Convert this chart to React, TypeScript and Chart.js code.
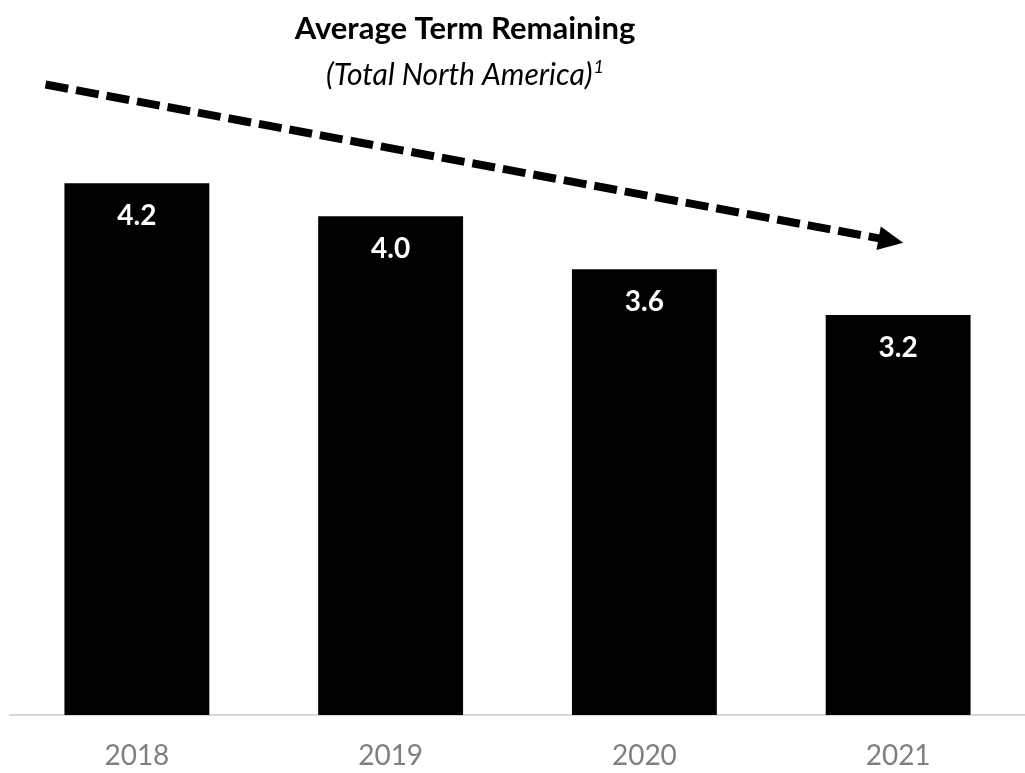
import React, { useEffect, useRef } from "react";
import { Chart, registerables } from "chart.js";

Chart.register(...registerables);

// ---- data ----
const categories = ["2018", "2019", "2020", "2021"];
const values = [4.2, 3.94, 3.52, 3.16];
const valueLabels = ["4.2", "4.0", "3.6", "3.2"];
const titleText = "Average Term Remaining";
const subtitleText = "(Total North America)";
const subtitleSup = "1";
// trend arrow in data units: [category index, value]
const trendStart = [-0.36, 4.98];
const trendEnd = [3.02, 3.73];

const FONT = "Lato, 'Open Sans', sans-serif";

const dataLabelPlugin = {
  id: "dataLabels",
  afterDatasetsDraw(chart: any) {
    const ctx = chart.ctx;
    const meta = chart.getDatasetMeta(0);
    ctx.save();
    ctx.fillStyle = "#ffffff";
    ctx.font = `bold 28px ${FONT}`;
    ctx.textAlign = "center";
    ctx.textBaseline = "middle";
    meta.data.forEach((bar: any, i: number) => {
      ctx.fillText(valueLabels[i], bar.x, bar.y + 33);
    });
    ctx.restore();
  },
};

const trendArrowPlugin = {
  id: "trendArrow",
  afterDraw(chart: any) {
    const ctx = chart.ctx;
    const xs = chart.scales.x;
    const ys = chart.scales.y;
    const x1 = xs.getPixelForValue(trendStart[0]);
    const y1 = ys.getPixelForValue(trendStart[1]);
    const x2 = xs.getPixelForValue(trendEnd[0]);
    const y2 = ys.getPixelForValue(trendEnd[1]);
    const ang = Math.atan2(y2 - y1, x2 - x1);
    const headLen = 25;
    const headHalf = 12;
    const bx = x2 - headLen * Math.cos(ang);
    const by = y2 - headLen * Math.sin(ang);
    ctx.save();
    ctx.strokeStyle = "#000000";
    ctx.lineWidth = 8;
    ctx.lineCap = "butt";
    ctx.setLineDash([23, 8]);
    ctx.beginPath();
    ctx.moveTo(x1, y1);
    ctx.lineTo(bx + 2 * Math.cos(ang), by + 2 * Math.sin(ang));
    ctx.stroke();
    ctx.setLineDash([]);
    ctx.fillStyle = "#000000";
    ctx.beginPath();
    ctx.moveTo(x2, y2);
    ctx.lineTo(bx + headHalf * Math.sin(ang), by - headHalf * Math.cos(ang));
    ctx.lineTo(bx - headHalf * Math.sin(ang), by + headHalf * Math.cos(ang));
    ctx.closePath();
    ctx.fill();
    ctx.restore();
  },
};

const titlePlugin = {
  id: "titles",
  afterDraw(chart: any) {
    const ctx = chart.ctx;
    const cx = 465;
    ctx.save();
    ctx.fillStyle = "#000000";
    ctx.textBaseline = "alphabetic";
    ctx.textAlign = "center";
    ctx.font = `bold 31px ${FONT}`;
    ctx.fillText(titleText, cx, 39);
    ctx.font = `italic 30px ${FONT}`;
    const w1 = ctx.measureText(subtitleText).width;
    ctx.font = `italic 18px ${FONT}`;
    const w2 = ctx.measureText(subtitleSup).width;
    const left = cx - (w1 + w2 + 1) / 2;
    ctx.textAlign = "left";
    ctx.font = `italic 30px ${FONT}`;
    ctx.fillText(subtitleText, left, 85);
    ctx.font = `italic 18px ${FONT}`;
    ctx.fillText(subtitleSup, left + w1 + 1, 73);
    ctx.restore();
  },
};

export default function App() {
  const ref = useRef<HTMLCanvasElement | null>(null);
  useEffect(() => {
    document.body.style.margin = "0";
    const canvas = ref.current;
    if (!canvas) return;
    const chart = new Chart(canvas, {
      type: "bar",
      data: {
        labels: categories,
        datasets: [
          {
            data: values,
            backgroundColor: "#000000",
            borderWidth: 0,
            categoryPercentage: 1,
            barPercentage: 0.571,
          },
        ],
      },
      options: {
        responsive: false,
        animation: false,
        layout: { padding: { top: 82, left: 10, right: 0, bottom: 0 } },
        plugins: {
          legend: { display: false },
          title: { display: false },
          tooltip: { enabled: false },
        },
        scales: {
          x: {
            grid: { display: false, drawTicks: false },
            border: { display: true, color: "#d9d9d9", width: 2 },
            ticks: {
              color: "#7f7f7f",
              font: { family: FONT, size: 28 },
              padding: 24,
            },
            afterFit(scale: any) {
              scale.height = 58;
            },
          },
          y: {
            display: false,
            min: 0,
            max: 5,
          },
        },
      },
      plugins: [dataLabelPlugin, trendArrowPlugin, titlePlugin],
    });
    return () => chart.destroy();
  }, []);
  return (
    <div style={{ width: 1025, height: 773 }}>
      <canvas ref={ref} width={1025} height={773} />
    </div>
  );
}
